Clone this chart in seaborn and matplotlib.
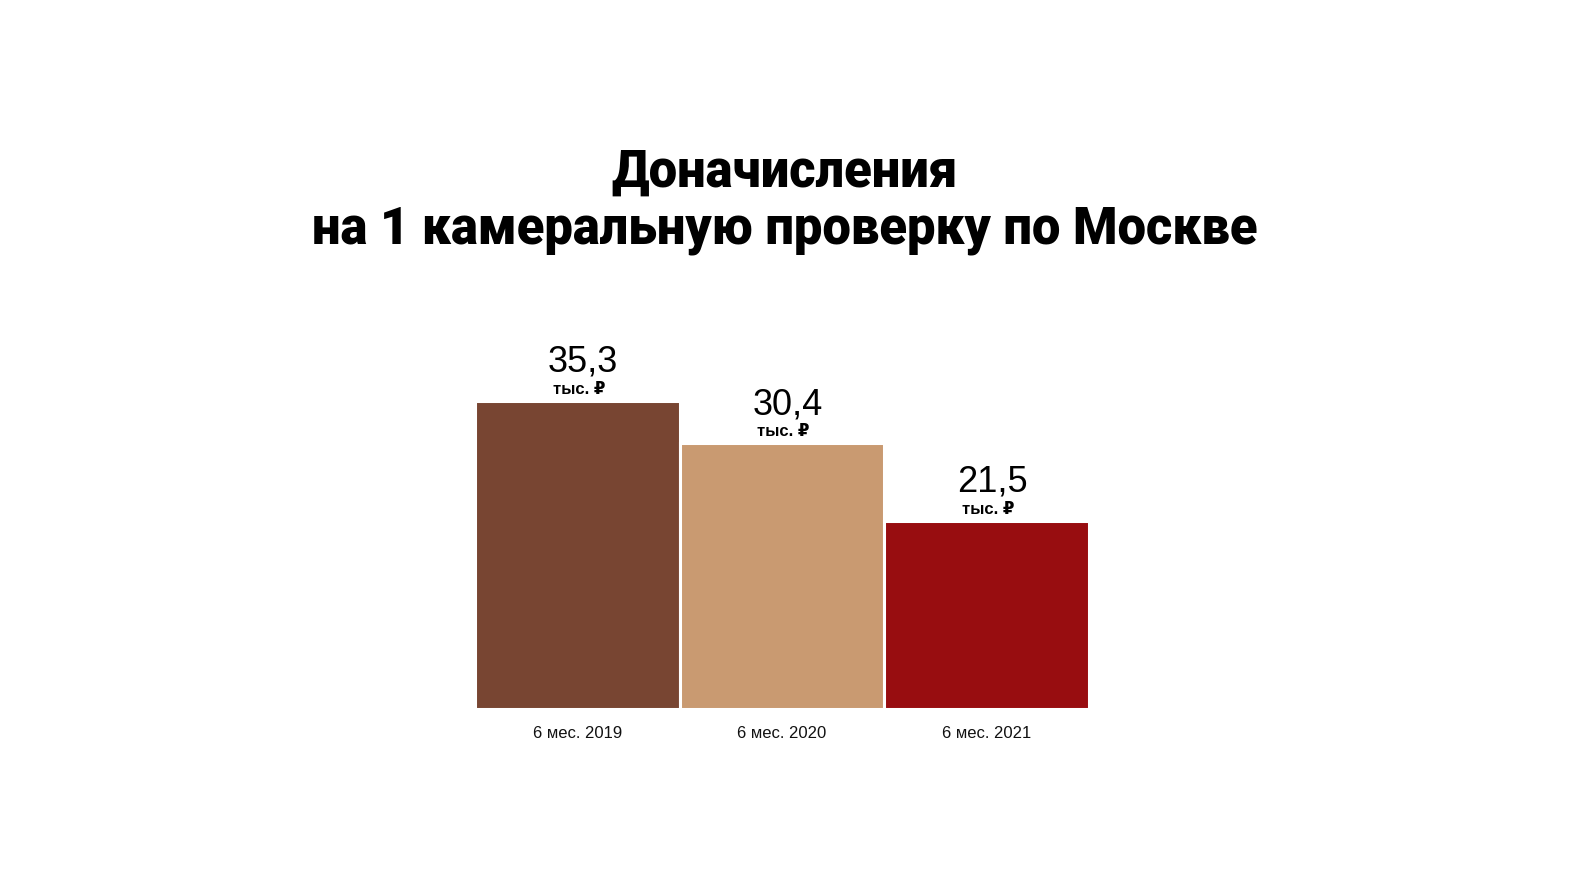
# Import libraries
import pandas as pd
import matplotlib.pyplot as plt
import seaborn as sns

# Chart data
periods = ['6 мес. 2019', '6 мес. 2020', '6 мес. 2021']
values = [35.3, 30.4, 21.5]
value_labels = ['35,3', '30,4', '21,5']
unit = 'тыс. ₽'
bar_colors = ['#784532', '#C99A71', '#980D10']

df = pd.DataFrame({'Period': periods, 'Value': values})

# Set the theme and size of the plot
sns.set_theme(style='white')
plt.rcParams['font.family'] = ['Liberation Sans', 'DejaVu Sans']

fig = plt.figure(figsize=(15.72, 8.84), dpi=100)
ax = fig.add_axes([475 / 1572, 175.5 / 884, 614 / 1572, 407 / 884])

# Create the plot
sns.barplot(data=df, x='Period', y='Value', hue='Period', palette=bar_colors,
            width=1.0, saturation=1, edgecolor='white', linewidth=2.2,
            legend=False, ax=ax)
ax.set_ylim(0, 46.68)
ax.set_xlim(-0.5, 2.5)
ax.axhline(0, color='#dddddd', lw=1.2, zorder=0)

# Value annotations
for i, (v, lab) in enumerate(zip(values, value_labels)):
    ax.annotate(lab, (i, v), xytext=(4, 21), textcoords='offset points',
                ha='center', va='baseline', fontsize=26, color='black')
    ax.annotate(unit, (i, v), xytext=(1, 5), textcoords='offset points',
                ha='center', va='baseline', fontsize=12, fontweight='bold',
                color='black')

# Change labels and their settings
ax.set_xlabel('')
ax.set_ylabel('')
ax.set_yticks([])
ax.tick_params(axis='x', length=0, pad=12.5, labelsize=12, labelcolor='#111111')
sns.despine(ax=ax, left=True, bottom=True)

# Title
fig.text(0.4994, 0.8046, 'Доначисления', ha='center', va='center',
         fontsize=36.5, fontweight='black', color='black',
         family=['Roboto', 'DejaVu Sans'])
fig.text(0.4994, 0.7396, 'на 1 камеральную проверку по Москве', ha='center',
         va='center', fontsize=36.5, fontweight='black', color='black',
         family=['Roboto', 'DejaVu Sans'])

fig.savefig('out.png', dpi=100, facecolor='white')
